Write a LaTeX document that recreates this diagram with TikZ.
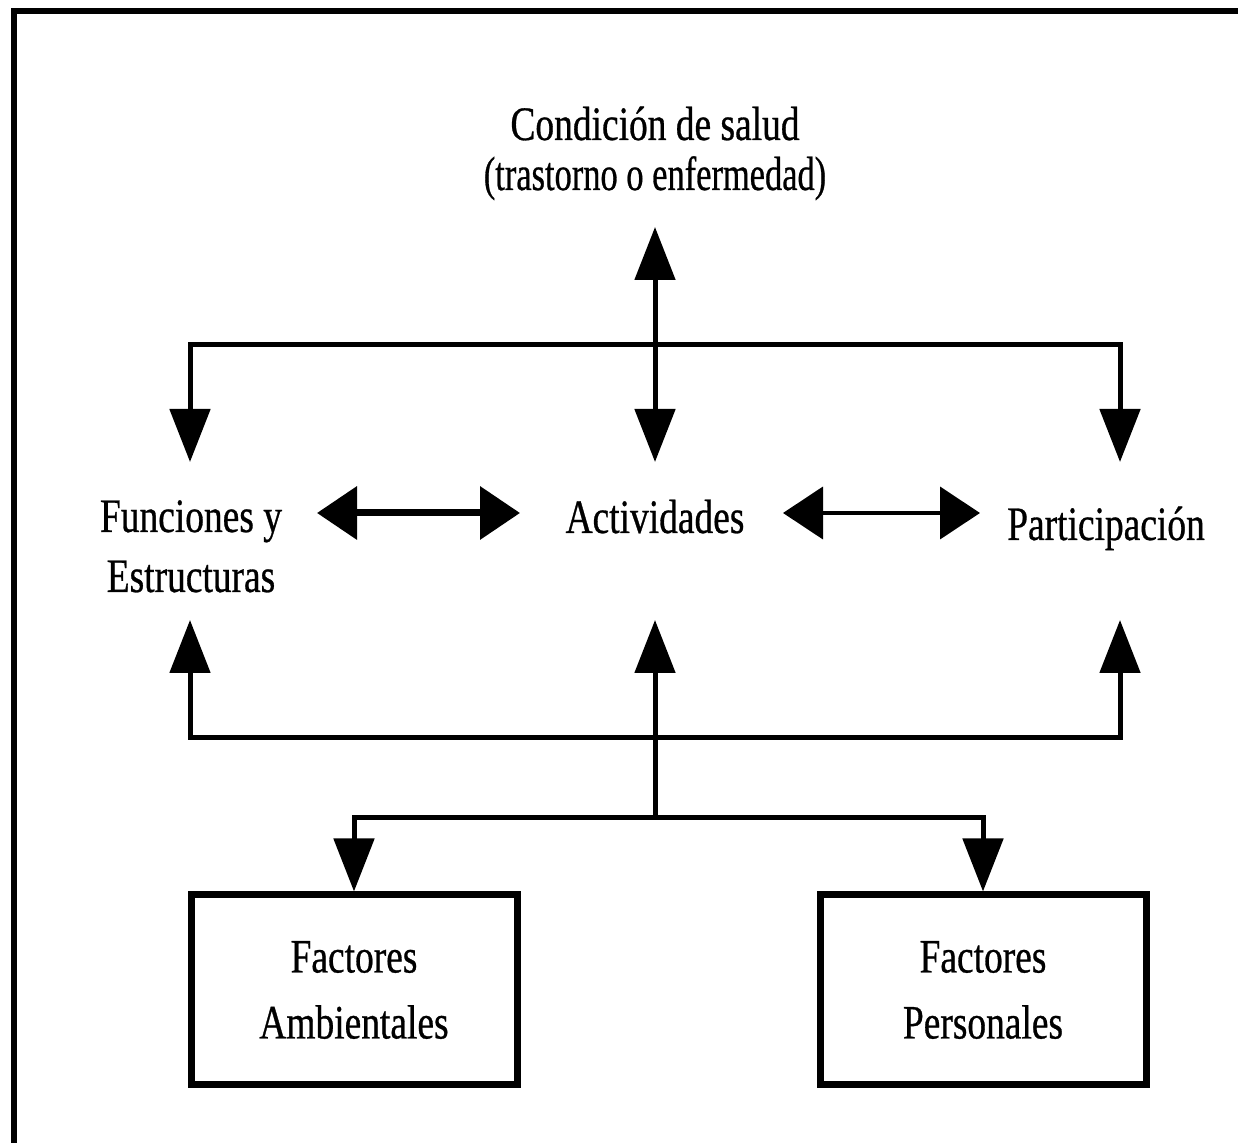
\documentclass[tikz,border=0pt]{standalone}
\usepackage{fontspec}
\setmainfont[FakeStretch=0.78, FakeBold=0.6]{Liberation Serif}
\usetikzlibrary{arrows.meta}

\tikzset{
  wire/.style={line width=2.5pt},
  vboth/.style={{Triangle[length=26.5pt,width=20pt]}-{Triangle[length=26.5pt,width=20pt]}},
  vtip/.style={-{Triangle[length=26.5pt,width=20pt]}},
  hboth/.style={{Triangle[length=20pt,width=26pt]}-{Triangle[length=20pt,width=26pt]}},
  factor/.style={draw, line width=3.5pt, inner sep=0pt, align=center,
    minimum width=163pt, minimum height=95pt, font=\fontsize{24}{33}\selectfont}
}

\begin{document}
\begin{tikzpicture}[x=0.5pt, y=-0.5pt]
      \useasboundingbox (0,0) rectangle (1238,1143);
      \draw[line width=3pt] (14,1143) -- (14,11) -- (1238,11);

      % anchor=base sits on the last line of the text
      {\tikzstyle{every node}=[inner sep=0pt, anchor=base, align=center]
        \node[font=\fontsize{24}{25}\selectfont] (salud) at (655,190)
          {Condición de salud\\\scalebox{0.92}[1]{(trastorno o enfermedad)}};
        \node[font=\fontsize{24}{30}\selectfont] (funciones) at (191,592)
          {Funciones y\\Estructuras};
        \node[font=\fontsize{24}{27}\selectfont] (actividades) at (655,533) {Actividades};
        \node[font=\fontsize{24}{27}\selectfont] (participacion) at (1106,540) {Participación};
      }

      \node[factor] (ambientales) at (354,990) {Factores\\Ambientales};
      \node[factor] (personales) at (983,990) {Factores\\Personales};

      \foreach \n/\x in {fe/190, act/655, pa/1120}
      {
        \coordinate (\n-in) at (\x,462);
        \coordinate (\n-out) at (\x,620);
      }
      \coordinate (salud-in) at (655,227);
      \coordinate (hub) at (655,818);

      \draw[wire, vboth]
        (fe-in) -- (190,345) -- (1120,345) -- (pa-in);
      \draw[wire, vboth] (salud-in) -- (act-in);

      \draw[wire, vboth]
        (fe-out) -- (190,738) -- (1120,738) -- (pa-out);
      \draw[wire, vtip] (hub) -- (act-out);

      \draw[wire, vboth]
        (ambientales.north) -- (ambientales.north |- hub)
        -- (personales.north |- hub) -- (personales.north);

      \draw[hboth, line width=3.5pt] (317,513) -- (520,513);
      \draw[hboth, line width=2pt] (783,513) -- (980,513);
    \end{tikzpicture}
\end{document}
